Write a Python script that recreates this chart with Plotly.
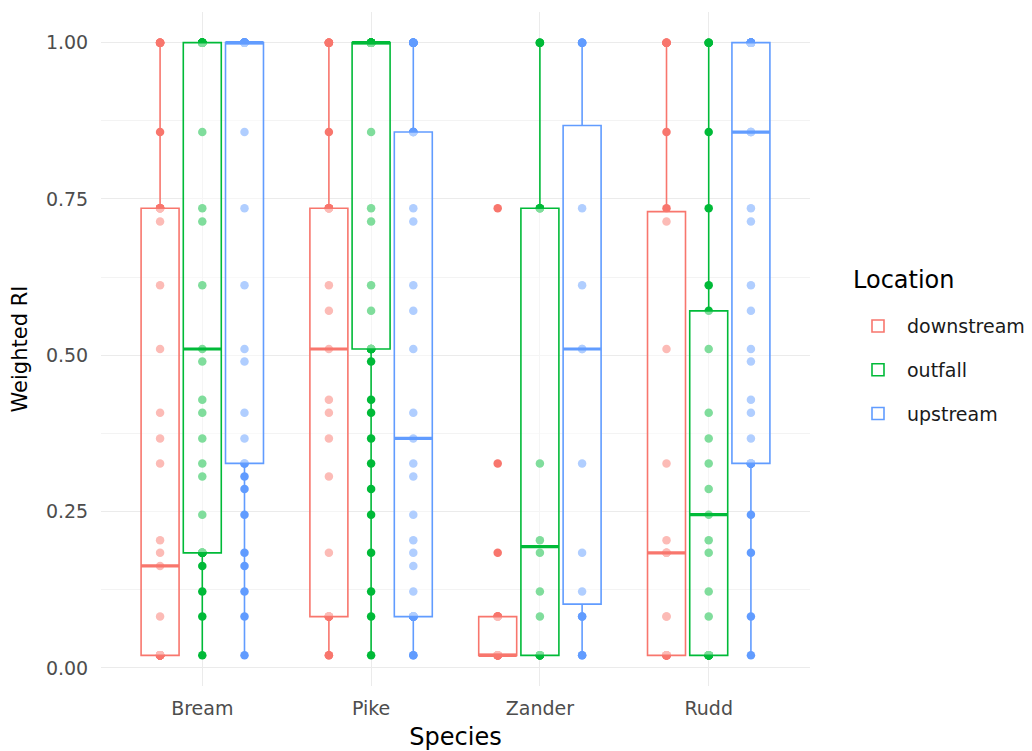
import numpy as np
import plotly.graph_objects as go

# Categories
species = ["Bream", "Pike", "Zander", "Rudd"]
locations = ["downstream", "outfall", "upstream"]
location_colors = ["#F8766D", "#00BA38", "#619CFF"]

# Weighted RI observations, one list per species x location
bream_downstream = [0.02, 0.02, 0.02, 0.02, 0.02, 0.02, 0.02, 0.02, 0.02, 0.02, 0.02, 0.02,
                    0.02, 0.02, 0.02, 0.02, 0.02, 0.02, 0.082, 0.163, 0.184, 0.204, 0.327,
                    0.367, 0.408, 0.51, 0.612, 0.714, 0.735, 0.735, 0.735, 0.735, 0.735,
                    0.857, 1.0, 1.0, 1.0, 1.0, 1.0]
bream_outfall = [0.02, 0.082, 0.122, 0.163, 0.184, 0.184, 0.184, 0.184, 0.184, 0.184, 0.245,
                 0.306, 0.327, 0.367, 0.408, 0.429, 0.49, 0.51, 0.612, 0.714, 0.735, 0.857,
                 1.0, 1.0, 1.0, 1.0, 1.0, 1.0, 1.0, 1.0, 1.0, 1.0, 1.0, 1.0, 1.0]
bream_upstream = [0.02, 0.082, 0.122, 0.163, 0.184, 0.245, 0.286, 0.306, 0.327, 0.327, 0.367,
                  0.408, 0.49, 0.51, 0.612, 0.735, 0.857, 1.0, 1.0, 1.0, 1.0, 1.0, 1.0, 1.0,
                  1.0, 1.0, 1.0, 1.0, 1.0, 1.0, 1.0, 1.0, 1.0, 1.0, 1.0, 1.0]
pike_downstream = [0.02, 0.02, 0.082, 0.082, 0.082, 0.082, 0.082, 0.082, 0.184, 0.306, 0.367,
                   0.408, 0.429, 0.51, 0.571, 0.612, 0.735, 0.735, 0.735, 0.735, 0.735, 0.857,
                   1.0, 1.0, 1.0, 1.0, 1.0]
pike_outfall = [0.02, 0.082, 0.122, 0.184, 0.245, 0.286, 0.327, 0.367, 0.408, 0.429, 0.49,
                0.51, 0.51, 0.51, 0.51, 0.51, 0.51, 0.571, 0.612, 0.714, 0.735, 0.857,
                1.0, 1.0, 1.0, 1.0, 1.0, 1.0, 1.0, 1.0, 1.0, 1.0, 1.0, 1.0, 1.0, 1.0, 1.0,
                1.0, 1.0, 1.0, 1.0, 1.0, 1.0, 1.0, 1.0, 1.0, 1.0]
pike_upstream = [0.02, 0.02, 0.082, 0.082, 0.082, 0.082, 0.082, 0.082, 0.082, 0.082, 0.082,
                 0.122, 0.163, 0.184, 0.204, 0.245, 0.306, 0.327, 0.367, 0.408, 0.51, 0.571,
                 0.612, 0.714, 0.735, 0.857, 0.857, 0.857, 0.857, 1.0, 1.0, 1.0, 1.0, 1.0,
                 1.0, 1.0, 1.0]
zander_downstream = [0.02, 0.02, 0.02, 0.02, 0.02, 0.02, 0.02, 0.02, 0.082, 0.082, 0.082,
                     0.082, 0.184, 0.327, 0.735]
zander_outfall = [0.02, 0.02, 0.02, 0.02, 0.02, 0.082, 0.122, 0.184, 0.204, 0.327, 0.735,
                  0.735, 0.735, 1.0, 1.0, 1.0]
zander_upstream = [0.02, 0.02, 0.082, 0.082, 0.122, 0.184, 0.327, 0.51, 0.51, 0.612, 0.735,
                   1.0, 1.0, 1.0, 1.0]
rudd_downstream = [0.02, 0.02, 0.02, 0.02, 0.02, 0.02, 0.02, 0.082, 0.082, 0.184, 0.184,
                   0.184, 0.204, 0.327, 0.51, 0.714, 0.735, 0.857, 1.0, 1.0, 1.0, 1.0]
rudd_outfall = [0.02, 0.02, 0.02, 0.02, 0.02, 0.02, 0.02, 0.02, 0.082, 0.122, 0.184, 0.204,
                0.245, 0.286, 0.327, 0.367, 0.408, 0.51, 0.571, 0.612, 0.735, 0.857,
                1.0, 1.0, 1.0]
rudd_upstream = [0.02, 0.082, 0.184, 0.245, 0.327, 0.327, 0.327, 0.327, 0.327, 0.327, 0.327,
                 0.367, 0.408, 0.429, 0.49, 0.51, 0.571, 0.612, 0.714, 0.735, 0.857, 0.857,
                 0.857, 1.0, 1.0, 1.0, 1.0, 1.0, 1.0, 1.0, 1.0, 1.0, 1.0, 1.0, 1.0, 1.0,
                 1.0, 1.0, 1.0, 1.0, 1.0]

groups = {
    ("Bream", "downstream"): bream_downstream,
    ("Bream", "outfall"): bream_outfall,
    ("Bream", "upstream"): bream_upstream,
    ("Pike", "downstream"): pike_downstream,
    ("Pike", "outfall"): pike_outfall,
    ("Pike", "upstream"): pike_upstream,
    ("Zander", "downstream"): zander_downstream,
    ("Zander", "outfall"): zander_outfall,
    ("Zander", "upstream"): zander_upstream,
    ("Rudd", "downstream"): rudd_downstream,
    ("Rudd", "outfall"): rudd_outfall,
    ("Rudd", "upstream"): rudd_upstream,
}

dodge = 0.25        # spacing between location groups within a species
box_width = 0.225   # box width in category units


def box_stats(vals):
    v = np.sort(np.asarray(vals, dtype=float))
    q1, med, q3 = np.percentile(v, [25, 50, 75])
    iqr = q3 - q1
    lo = v[v >= q1 - 1.5 * iqr].min()
    hi = v[v <= q3 + 1.5 * iqr].max()
    return q1, med, q3, lo, hi


fig = go.Figure()

# Points underneath the boxes
for li, loc in enumerate(locations):
    xs, ys = [], []
    for si, sp in enumerate(species):
        vals = groups[(sp, loc)]
        xs += [si + (li - 1) * dodge] * len(vals)
        ys += vals
    fig.add_trace(go.Scatter(
        x=xs, y=ys, mode="markers", xaxis="x", yaxis="y",
        marker=dict(color=location_colors[li], size=8.5, line=dict(width=0)),
        showlegend=False, hoverinfo="y",
    ))

# Boxes on an overlaying axis so the translucent fill sits over the points
for li, loc in enumerate(locations):
    pos, q1s, meds, q3s, los, his = [], [], [], [], [], []
    mx, my = [], []
    for si, sp in enumerate(species):
        q1, med, q3, lo, hi = box_stats(groups[(sp, loc)])
        p = si + (li - 1) * dodge
        pos.append(p); q1s.append(q1); meds.append(med); q3s.append(q3)
        los.append(lo); his.append(hi)
        mx += [p - box_width / 2, p + box_width / 2, None]
        my += [med, med, None]
    fig.add_trace(go.Box(
        name=loc, x=pos, q1=q1s, median=meds, q3=q3s,
        lowerfence=los, upperfence=his, width=box_width,
        boxpoints=False, whiskerwidth=0,
        fillcolor="rgba(255,255,255,0.5)",
        line=dict(color=location_colors[li], width=1.6),
        xaxis="x2", yaxis="y", legendgroup=loc,
    ))
    fig.add_trace(go.Scatter(
        x=mx, y=my, mode="lines", xaxis="x2", yaxis="y",
        line=dict(color=location_colors[li], width=3.2),
        showlegend=False, hoverinfo="skip",
    ))

all_vals = np.concatenate([np.asarray(v) for v in groups.values()])
ymin, ymax = all_vals.min(), all_vals.max()
ypad = 0.05 * (ymax - ymin)
yrange = [ymin - ypad, ymax + ypad]
xrange = [-0.6, len(species) - 1 + 0.6]

grid = "#EBEBEB"
family = "DejaVu Sans, Liberation Sans, sans-serif"
tick_font = dict(family=family, size=19, color="#4D4D4D")
title_font = dict(family=family, size=24, color="#000000")

fig.update_layout(
    width=1032, height=751,
    paper_bgcolor="white", plot_bgcolor="white",
    margin=dict(l=101, r=222, t=12, b=65, autoexpand=False),
    font=dict(family=family),
    xaxis=dict(
        range=xrange, tickvals=list(range(len(species))), ticktext=species,
        showgrid=True, gridcolor=grid, gridwidth=1.2, zeroline=False,
        showline=False, ticks="outside", ticklen=5, tickcolor="rgba(0,0,0,0)",
        tickfont=tick_font, automargin=False,
        title=dict(text="Species", font=title_font, standoff=12),
    ),
    xaxis2=dict(
        range=xrange, overlaying="x", matches="x", visible=False,
        showgrid=False, zeroline=False,
    ),
    yaxis=dict(
        range=yrange, tickvals=[0, 0.25, 0.5, 0.75, 1.0],
        ticktext=["0.00", "0.25", "0.50", "0.75", "1.00"],
        showgrid=True, gridcolor=grid, gridwidth=1.2, zeroline=False,
        showline=False, ticks="outside", ticklen=8, tickcolor="rgba(0,0,0,0)",
        tickfont=tick_font, automargin=False,
        minor=dict(tickvals=[0.125, 0.375, 0.625, 0.875], showgrid=True,
                   gridcolor="#F3F3F3", gridwidth=0.7),
        title=dict(text="Weighted RI", font=dict(family=family, size=21, color="#000000"),
                   standoff=12),
    ),
    legend=dict(
        font=dict(family=family, size=19, color="#1A1A1A"),
        x=1.055, xanchor="left", y=0.562, yanchor="top",
        tracegroupgap=16, traceorder="grouped", itemwidth=48,
        bgcolor="rgba(0,0,0,0)",
    ),
    annotations=[dict(
        text="Location", xref="paper", yref="paper", x=1.058, y=0.602,
        xanchor="left", yanchor="middle", showarrow=False,
        font=dict(family=family, size=24, color="#000000"),
    )],
    showlegend=True,
)

fig.write_html("out.html")
